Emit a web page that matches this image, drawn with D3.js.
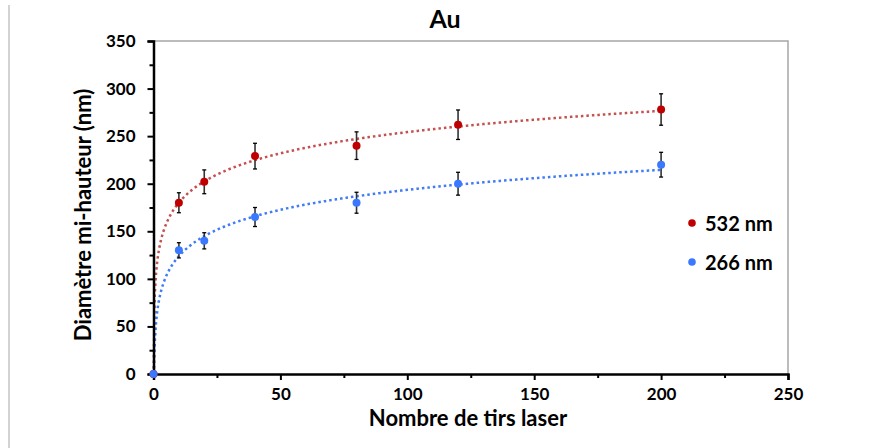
<!DOCTYPE html>
<html>
<head>
<meta charset="utf-8">
<script src="https://cdn.jsdelivr.net/npm/d3@7"></script>
<style>
  body { margin: 0; background: #fff; }
  svg { display: block; font-family: Lato, "Open Sans", sans-serif; font-weight: bold; }
</style>
</head>
<body>
<div id="chart"></div>
<script>
// data
const shots = [0, 10, 20, 40, 80, 120, 200];
const d532 = [0, 180, 202, 229, 240, 262, 278];
const err532 = [0, 10.5, 12.5, 13.5, 14.5, 15.5, 16.5];
const d266 = [0, 130, 140, 165, 180, 200, 220];
const err266 = [0, 8, 8.5, 10, 11, 12, 13];
const xTicks = [0, 50, 100, 150, 200, 250];
const yTicks = [0, 50, 100, 150, 200, 250, 300, 350];

const series = [
    {name: "532 nm", values: d532, errors: err532, color: "#c00000", trend: "#c55050"},
    {name: "266 nm", values: d266, errors: err266, color: "#3a78ff", trend: "#3f7cf5"}
];

const width = 885, height = 448;
const svg = d3.select("#chart").append("svg")
    .attr("width", width)
    .attr("height", height);

const x = d3.scaleLinear().domain([0, 250]).range([153.5, 788]);
const y = d3.scaleLinear().domain([0, 350]).range([374, 41]);

// outer frame edge on the left
svg.append("line")
    .attr("x1", 9).attr("x2", 9).attr("y1", 5).attr("y2", height)
    .attr("stroke", "#c4c4c4").attr("stroke-width", 1.5);

// plot area border (top + right)
svg.append("path")
    .attr("d", "M" + x(0) + "," + y(350) + "H" + x(250) + "V" + y(0))
    .attr("fill", "none")
    .attr("stroke", "#a6a6a6")
    .attr("stroke-width", 1.5);

// log trend line fitted on the points with x > 0
const logFit = (xs, ys) => {
    let pts = xs.map((v, i) => [Math.log(v), ys[i]]).filter((p, i) => xs[i] > 0);
    let mx = d3.mean(pts, p => p[0]), my = d3.mean(pts, p => p[1]);
    let sxy = d3.sum(pts, p => (p[0] - mx) * (p[1] - my));
    let sxx = d3.sum(pts, p => (p[0] - mx) * (p[0] - mx));
    let a = sxy / sxx;
    return {a: a, b: my - a * mx};
};

const line = d3.line().x(d => x(d[0])).y(d => y(d[1]));

series.forEach(s => {
    let fit = logFit(shots, s.values);
    let start = Math.exp(-fit.b / fit.a);
    let lx = d3.scaleLog().domain([start, 200]);
    let pts = lx.ticks(400).concat([start, 200]).sort((p, q) => p - q)
        .filter(v => v >= start && v <= 200)
        .map(v => [v, Math.max(0, fit.a * Math.log(v) + fit.b)]);
    svg.append("path")
        .attr("d", line(pts))
        .attr("fill", "none")
        .attr("stroke", s.trend)
        .attr("stroke-width", 2.5)
        .attr("stroke-dasharray", "2.5,3");
});

// axes
svg.append("g")
    .attr("transform", "translate(0," + y(0) + ")")
    .call(d3.axisBottom(x).tickValues(xTicks).tickSize(6).tickPadding(8).tickFormat(d3.format("d")));
svg.append("g")
    .attr("transform", "translate(0," + y(0) + ")")
    .call(d3.axisBottom(x).tickValues(d3.range(25, 250, 50)).tickSize(4).tickFormat(""))
    .select(".domain").remove();

svg.append("g")
    .attr("transform", "translate(" + x(0) + ",0)")
    .call(d3.axisLeft(y).tickValues(yTicks).tickSize(6).tickPadding(12).tickFormat(d3.format("d")));
svg.append("g")
    .attr("transform", "translate(" + x(0) + ",0)")
    .call(d3.axisLeft(y).tickValues(d3.range(25, 350, 50)).tickSize(4).tickFormat(""))
    .select(".domain").remove();

svg.selectAll(".domain").attr("stroke", "#000").attr("stroke-width", 2.5);
svg.selectAll(".tick line").attr("stroke", "#000").attr("stroke-width", 2);
svg.selectAll(".tick text")
    .attr("fill", "#000")
    .style("font-family", "Lato, sans-serif")
    .style("font-weight", "bold")
    .style("font-size", "17px");

// error bars and markers
series.forEach(s => {
    let g = svg.append("g");
    shots.forEach((sx, i) => {
        if (s.errors[i] <= 0) return;
        let top = y(s.values[i] + s.errors[i]), bot = y(s.values[i] - s.errors[i]);
        g.append("line")
            .attr("x1", x(sx)).attr("x2", x(sx)).attr("y1", top).attr("y2", bot)
            .attr("stroke", "#333").attr("stroke-width", 1.6);
        [top, bot].forEach(c => {
            g.append("line")
                .attr("x1", x(sx) - 2).attr("x2", x(sx) + 2).attr("y1", c).attr("y2", c)
                .attr("stroke", "#000").attr("stroke-width", 1.3);
        });
    });
    g.selectAll("circle")
        .data(shots)
        .enter()
        .append("circle")
        .attr("cx", d => x(d))
        .attr("cy", (d, i) => y(s.values[i]))
        .attr("r", 4)
        .attr("fill", s.color);
});

// legend
series.forEach((s, i) => {
    let ly = 223 + i * 39;
    svg.append("circle")
        .attr("cx", 692).attr("cy", ly).attr("r", 3.8)
        .attr("fill", s.color);
    svg.append("text")
        .attr("x", 705).attr("y", ly + 7.5)
        .style("font-size", "20px")
        .text(s.name);
});

// titles
svg.append("text")
    .attr("x", 445).attr("y", 28)
    .attr("text-anchor", "middle")
    .style("font-size", "25px")
    .text("Au");

svg.append("text")
    .attr("x", 468).attr("y", 426)
    .attr("text-anchor", "middle")
    .style("font-size", "22px")
    .text("Nombre de tirs laser");

svg.append("text")
    .attr("transform", "translate(91,215) rotate(-90)")
    .attr("text-anchor", "middle")
    .style("font-size", "22px")
    .text("Diamètre mi-hauteur (nm)");
</script>
</body>
</html>
